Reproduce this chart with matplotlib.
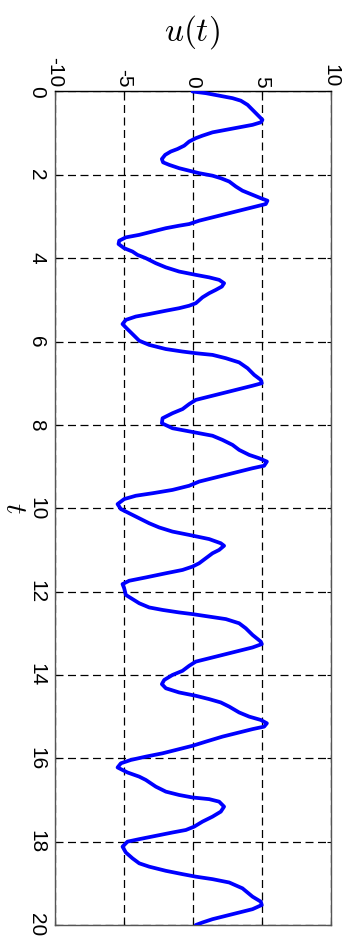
import matplotlib
matplotlib.use("Agg")
import matplotlib.pyplot as plt

t_vals = [0.00, 0.04, 0.10, 0.16, 0.22, 0.32, 0.44, 0.54, 0.62, 0.68, 0.74, 0.80, 0.86, 0.92, 0.98,
          1.06, 1.12, 1.20, 1.30, 1.38, 1.44, 1.52, 1.62, 1.70, 1.76, 1.84, 1.90, 1.96, 2.02, 2.08,
          2.16, 2.28, 2.38, 2.48, 2.56, 2.62, 2.70, 2.74, 2.82, 2.92, 3.02, 3.10, 3.18, 3.22, 3.28,
          3.36, 3.44, 3.50, 3.58, 3.66, 3.76, 3.84,
          3.92, 4.00, 4.12, 4.22, 4.32, 4.40, 4.46, 4.52, 4.60, 4.68, 4.76, 4.84, 4.94, 5.08, 5.14,
          5.20, 5.26, 5.34, 5.40, 5.48, 5.58, 5.68, 5.82, 5.98, 6.08, 6.18, 6.24, 6.28, 6.32, 6.40,
          6.50, 6.64, 6.80, 6.92, 7.00, 7.06, 7.14, 7.22, 7.32, 7.40, 7.50, 7.62, 7.72, 7.84, 7.96,
          8.08, 8.14, 8.20, 8.26, 8.36, 8.48, 8.60, 8.72, 8.80, 8.88, 8.98, 9.04, 9.12, 9.20, 9.28,
          9.36, 9.46, 9.56, 9.64, 9.70, 9.78, 9.90, 10.02, 10.12, 10.24, 10.36, 10.46, 10.56, 10.64,
          10.74, 10.84, 10.90, 11.00, 11.08, 11.20, 11.32, 11.40, 11.48, 11.56, 11.66, 11.74, 11.82,
          11.92,
          12.08, 12.18, 12.28, 12.38, 12.44, 12.50, 12.54, 12.60, 12.66, 12.76, 12.88, 13.04, 13.20,
          13.26, 13.34, 13.42, 13.50, 13.60, 13.68, 13.78, 13.90, 14.00, 14.12, 14.22, 14.32, 14.42,
          14.50, 14.58, 14.66, 14.76, 14.90, 15.00, 15.08, 15.16, 15.24, 15.30, 15.38, 15.48, 15.60,
          15.70, 15.78, 15.88, 15.96, 16.04, 16.12, 16.22,
          16.34, 16.44, 16.52, 16.68, 16.80, 16.88, 16.94, 16.98, 17.04, 17.16, 17.28, 17.40, 17.52,
          17.64, 17.72, 17.78, 17.86, 17.94, 18.00, 18.12, 18.26, 18.40, 18.52, 18.60, 18.70, 18.78,
          18.84, 18.90, 18.98, 19.12, 19.32, 19.44, 19.52, 19.62, 19.70, 19.78, 19.86, 19.94, 20.00]
u_vals = [0.00, 0.97, 1.93, 2.90, 3.50, 3.99, 4.35, 4.64, 4.88, 5.07, 4.95, 4.35, 3.38, 2.42, 1.45,
          0.72, 0.24, -0.24, -0.60, -1.09, -1.57, -1.98, -2.22, -2.13, -1.69, -0.97, -0.24, 0.48, 1.45, 2.05,
          2.66, 3.14, 3.62, 4.35, 4.95, 5.43, 5.31, 4.83, 3.86, 2.66, 1.45, 0.48, -0.24, -0.97, -1.93,
          -2.90, -3.86, -4.83, -5.31, -5.36, -4.95, -4.35,
          -3.99, -3.38, -2.66, -1.93, -0.97, 0.24, 1.21, 1.93, 2.29, 2.13, 1.69, 1.21, 0.72, 0.24, -0.24,
          -0.97, -1.93, -3.14, -4.11, -4.83, -5.07, -4.78, -4.35, -3.86, -3.14, -1.93, -0.72, 0.24, 1.45, 2.42,
          3.38, 3.99, 4.47, 4.95, 5.02, 4.35, 3.38, 2.42, 1.21, 0.24, -0.24, -0.72, -1.45, -2.17, -2.22,
          -1.45, -0.48, 0.48, 1.45, 2.17, 2.90, 3.38, 4.11, 4.83, 5.39, 5.19, 4.35, 3.38, 2.42, 1.45,
          0.48, -0.24, -1.45, -2.90, -4.11, -4.95, -5.43, -5.19, -4.59, -3.86, -3.14, -2.42, -1.45, -0.24,
          1.21, 2.05, 2.29, 1.93, 1.45, 0.97, 0.48, 0.00, -0.72, -1.93, -3.38, -4.59, -5.07,
          -4.95,
          -4.83, -4.35, -3.86, -3.14, -2.17, -0.97, 0.00, 1.21, 2.42, 3.38, 3.86, 4.35, 4.95,
          5.02, 4.35, 3.38, 2.42, 1.21, 0.24, -0.24, -0.72, -1.45, -2.05, -2.22, -1.93, -0.97,
          0.24, 1.21, 2.05, 2.66, 3.38, 4.11, 4.95, 5.39, 5.19, 4.35, 3.38, 2.17, 0.97,
          0.00, -0.97, -2.17, -3.38, -4.47, -5.19, -5.43,
          -4.71, -3.86, -3.38, -2.66, -1.93, -0.97, 0.00, 1.21, 1.93, 2.29, 2.05, 1.45, 0.72,
          0.12, -0.48, -1.45, -2.66, -3.86, -4.71, -5.07, -4.83, -4.35, -3.86, -3.14, -1.93, -0.72,
          0.24, 1.45, 2.66, 3.62, 4.35, 4.95, 5.02, 4.35, 3.38, 2.42, 1.45, 0.72, 0.24]

u_ticks = [-10, -5, 0, 5, 10]
t_ticks = [0, 2, 4, 6, 8, 10, 12, 14, 16, 18, 20]

plt.rcParams['mathtext.fontset'] = 'cm'
plt.rcParams['font.family'] = ['Liberation Sans', 'DejaVu Sans']

W, H = 354, 938
fig = plt.figure(figsize=(W / 100, H / 100), dpi=100)
left, right, top, bottom = 54.5, 330.5, 91.5, 925
ax = fig.add_axes([left / W, 1 - bottom / H, (right - left) / W, (bottom - top) / H])

ax.plot(u_vals, t_vals, color='#0000ff', lw=2.7, solid_joinstyle='round',
        solid_capstyle='round', zorder=3)

ax.set_xlim(-10, 10)
ax.set_ylim(20, 0)
ax.set_xticks(u_ticks)
ax.set_yticks(t_ticks)
ax.set_xticklabels([str(v) for v in u_ticks], rotation=-90, fontsize=15)
ax.set_yticklabels([str(v) for v in t_ticks], rotation=-90, fontsize=15, va='center')

ax.xaxis.tick_top()
ax.tick_params(axis='x', which='both', top=True, bottom=True, direction='in', length=3, pad=3, width=0.8)
ax.tick_params(axis='y', which='both', left=True, right=True, direction='in', length=3, pad=6, width=0.8)

ax.grid(True, color='black', linestyle=(0, (6.4, 3.6)), linewidth=0.9)
ax.set_axisbelow(True)

for s in ['left', 'right', 'bottom']:
    ax.spines[s].set_color('#555555')
    ax.spines[s].set_linewidth(1.0)
ax.spines['top'].set_color('black')
ax.spines['top'].set_linewidth(1.0)

fig.text(192 / W, 1 - 32 / H, r'$u(t)$', fontsize=24, ha='center', va='center')
fig.text(14 / W, 1 - 508 / H, r'$t$', fontsize=21, ha='center', va='center', rotation=-90)

fig.savefig('out.png', dpi=100)
